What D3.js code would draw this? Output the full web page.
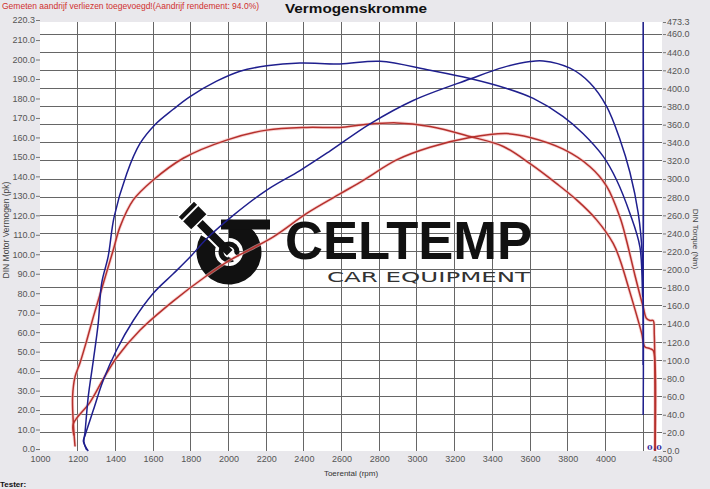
<!DOCTYPE html>
<html><head><meta charset="utf-8">
<script src="https://cdn.jsdelivr.net/npm/d3@7"></script>
<style>
html,body{margin:0;padding:0;background:#e9e8ec;}
svg{display:block;font-family:"Liberation Sans",Arial,sans-serif;}
</style></head>
<body>
<script>
// ---------- DATA ----------
const rpmTicks = [1000,1200,1400,1600,1800,2000,2200,2400,2600,2800,3000,3200,3400,3600,3800,4000,4300];
const rpmGrid = [1200,1400,1600,1800,2000,2200,2400,2600,2800,3000,3200,3400,3600,3800,4000,4200];
const powerTicks = [0,10,20,30,40,50,60,70,80,90,100,110,120,130,140,150,160,170,180,190,200,210,220.3];
const torqueTicks = [0,20,40,60,80,100,120,140,160,180,200,220,240,260,280,300,320,340,360,380,400,420,440,460,473.3];

// blue (tuned) torque, Nm  [rpm, Nm]
const tunedTorque = [[1248,1],[1233,10],[1239,21],[1256,60],[1283,100],[1309,141],[1327,185],[1362,215],[1393,258],[1460,306],[1530,339],[1610,360],[1707,377],[1796,391],[1937,408],[2061,419],[2203,425],[2379,428],[2591,427],[2804,430],[3069,420],[3281,411],[3476,400],[3617,389],[3776,369],[3882,350],[3988,325],[4059,299],[4130,262],[4183,225],[4198,170],[4200,473.3],[4200,95]];
// blue (tuned) power, pk
const tunedPower = [[1256,0],[1230,5],[1239,8],[1283,21],[1336,36.5],[1407,52],[1495,67],[1601,81],[1707,91],[1800,100],[1884,109],[2025,121],[2203,134],[2379,144],[2538,154],[2751,168],[2980,180],[3281,191],[3458,197],[3600,200],[3670,200.3],[3812,196.6],[3918,189],[4006,177],[4077,160],[4130,143],[4174,122],[4195,101],[4200,18.5]];
// red (stock) torque, Nm
const stockTorque = [[1186,5],[1177,30],[1173,60],[1186,82],[1212,97],[1248,122],[1283,148],[1336,185],[1389,222],[1424,247],[1495,277],[1601,299],[1760,323],[1990,343],[2203,354],[2415,357],[2591,357],[2715,360],[2892,362],[3069,358],[3281,347],[3458,336],[3600,317],[3741,295],[3847,277],[3953,255],[4041,229],[4077,211],[4130,175],[4192,130],[4209,115],[4236,113],[4253,111],[4263,95],[4263,0]];
// red (stock) power, pk
const stockPower = [[1180,8],[1177,14],[1265,25],[1336,37],[1407,48],[1530,62],[1707,77],[1884,90],[2008,98],[2238,110],[2415,122],[2591,132],[2715,139],[2892,149.5],[3069,156],[3281,161],[3476,163],[3600,161],[3776,155],[3918,146],[4006,136],[4077,120],[4112,108],[4157,90],[4200,74],[4218,68],[4236,67],[4253,67],[4259,60],[4263,0]];

// ---------- CHART ----------
const W = 710, H = 489;
const L = 40, R = 662, T = 22, B = 451;
const svg = d3.select("body").append("svg").attr("width", W).attr("height", H);
svg.append("rect").attr("width", W).attr("height", H).attr("fill", "#e9e8ec");

const x = d3.scaleLinear().domain([1000, 4300]).range([L, R]);
const yL = d3.scaleLinear().domain([0, 220.3]).range([B, T]);
const yR = d3.scaleLinear().domain([0, 473.3]).range([B, T]);

svg.append("rect").attr("x", L).attr("y", T).attr("width", R - L).attr("height", B - T).attr("fill", "#fff");

const grid = svg.append("g").attr("stroke", "#666").attr("stroke-width", 1).attr("shape-rendering", "crispEdges");
grid.selectAll("line.v").data(rpmGrid).join("line").attr("class", "v")
  .attr("x1", d => x(d)).attr("x2", d => x(d)).attr("y1", T).attr("y2", B);
grid.selectAll("line.h").data(torqueTicks.filter(d => d > 0 && d < 470)).join("line").attr("class", "h")
  .attr("x1", L).attr("x2", R).attr("y1", d => yR(d)).attr("y2", d => yR(d));

// axes
const fmt = d3.format(".1f");
const axL = svg.append("g").attr("transform", `translate(${L},-2)`)
  .call(d3.axisLeft(yL).tickValues(powerTicks).tickFormat(fmt).tickSize(4).tickPadding(1));
const axR = svg.append("g").attr("transform", `translate(${R + 1},0)`)
  .call(d3.axisRight(yR).tickValues(torqueTicks).tickFormat(fmt).tickSize(3).tickPadding(1));
const axB = svg.append("g").attr("transform", `translate(0,${B})`)
  .call(d3.axisBottom(x).tickValues(rpmTicks).tickFormat(d3.format("d")).tickSize(0).tickPadding(5));
[axL, axR, axB].forEach(a => {
  a.select(".domain").remove();
  a.selectAll("text").attr("fill", "#555").attr("font-size", 9).attr("font-family", "Liberation Sans, Arial, sans-serif");
  a.selectAll(".tick line").attr("stroke", "#777");
});

// logo (watermark)
const logo = svg.append("g");
logo.append("path")
  .attr("transform", "translate(229,252)")
  .attr("d", d3.arc().innerRadius(14).outerRadius(32.5).startAngle(0).endAngle(5.25)())
  .attr("fill", "#111");
logo.append("rect").attr("x", 221).attr("y", 219.5).attr("width", 49).attr("height", 10).attr("fill", "#111");
const pis = logo.append("g").attr("transform", "translate(229,252) rotate(-135)");
pis.append("rect").attr("x", -2).attr("y", -5).attr("width", 46).attr("height", 10).attr("fill", "#111")
  .attr("stroke", "#fff").attr("stroke-width", 2);
pis.append("circle").attr("r", 8).attr("fill", "none").attr("stroke", "#111").attr("stroke-width", 5);
pis.append("rect").attr("x", -12).attr("y", -3).attr("width", 8).attr("height", 6).attr("fill", "#fff");
pis.append("rect").attr("x", 42).attr("y", -11.5).attr("width", 19).attr("height", 23).attr("fill", "#111")
  .attr("stroke", "#fff").attr("stroke-width", 1.5);
pis.append("line").attr("x1", 55).attr("x2", 55).attr("y1", -12).attr("y2", 12).attr("stroke", "#fff").attr("stroke-width", 2);
logo.append("text").attr("x", 285).attr("y", 259).attr("font-size", 53).attr("font-weight", "bold")
  .attr("font-family", "Liberation Sans, Arial, sans-serif").attr("fill", "#111")
  .attr("textLength", 247).attr("lengthAdjust", "spacingAndGlyphs").text("CELTEMP");
logo.append("text").attr("x", 327).attr("y", 282).attr("font-size", 14)
  .attr("font-family", "DejaVu Sans, sans-serif").attr("fill", "#333")
  .attr("textLength", 203).attr("lengthAdjust", "spacingAndGlyphs").text("CAR EQUIPMENT");

// curves
svg.append("clipPath").attr("id", "clip").append("rect").attr("x", L).attr("y", T).attr("width", R - L).attr("height", B - T + 2);
const plot = svg.append("g").attr("clip-path", "url(#clip)");
const curve = d3.curveCatmullRom.alpha(0.5);
const lineL = d3.line().x(d => x(d[0])).y(d => yL(d[1])).curve(curve);
const lineR = d3.line().x(d => x(d[0])).y(d => yR(d[1])).curve(curve);
const series = [
  {d: stockPower, g: lineL, c: "#b5302c", halo: true},
  {d: stockTorque, g: lineR, c: "#b5302c", halo: true},
  {d: tunedPower, g: lineL, c: "#1f1f8e"},
  {d: tunedTorque, g: lineR, c: "#1f1f8e"}
];
series.forEach(s => {
  if (s.halo) plot.append("path").attr("d", s.g(s.d)).attr("fill", "none").attr("stroke", "#f3b5b5").attr("stroke-width", 3.2).attr("opacity", 0.6);
});
series.forEach(s => {
  plot.append("path").attr("d", s.g(s.d)).attr("fill", "none").attr("stroke", s.c).attr("stroke-width", 1.5).attr("stroke-linejoin", "round");
});

// cursor value
svg.append("text").attr("x", 647).attr("y", 450).attr("font-size", 8).attr("letter-spacing", 0.5).attr("font-weight", "bold")
  .attr("fill", "#3b2f9e").attr("font-family", "DejaVu Serif, serif").text("0.0");

// texts
svg.append("text").attr("x", 2).attr("y", 8.5).attr("font-size", 8.5).attr("fill", "#d0302e")
  .text("Gemeten aandrijf verliezen toegevoegd!(Aandrijf rendement: 94.0%)");
svg.append("text").attr("x", 285).attr("y", 12.5).attr("font-size", 13.5).attr("font-weight", "bold").attr("fill", "#111")
  .attr("textLength", 142).attr("lengthAdjust", "spacingAndGlyphs").text("Vermogenskromme");
svg.append("text").attr("transform", "translate(9,230) rotate(-90)").attr("text-anchor", "middle")
  .attr("font-size", 8.5).attr("fill", "#444").text("DIN Motor Vermogen (pk)");
svg.append("text").attr("transform", "translate(693,239) rotate(90)").attr("text-anchor", "middle")
  .attr("font-size", 8).attr("fill", "#444").text("DIN Torque (Nm)");
svg.append("text").attr("x", 351).attr("y", 476).attr("text-anchor", "middle")
  .attr("font-size", 8).attr("fill", "#333").text("Toerental (rpm)");
svg.append("text").attr("x", 0).attr("y", 487).attr("font-size", 8).attr("font-weight", "bold").attr("fill", "#111").text("Tester:");
</script>
</body></html>
